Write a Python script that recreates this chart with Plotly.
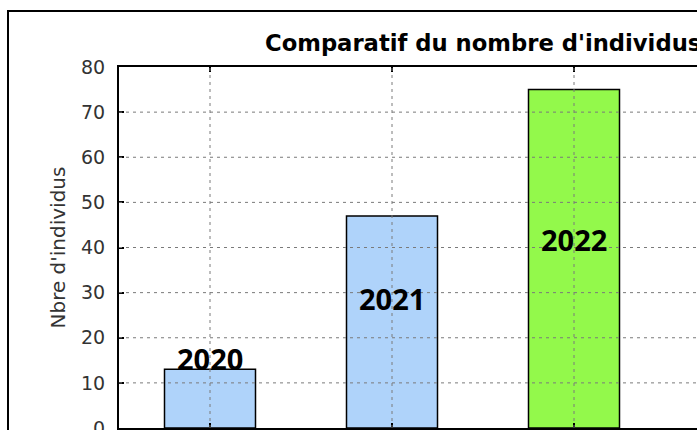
import plotly.graph_objects as go

# ---- data ----
years = ["2020", "2021", "2022"]
counts = [13, 47, 75]
bar_colors = ["#afd3fa", "#afd3fa", "#93f94b"]
label_y = [15.5, 28.8, 41.7]          # heights where year labels sit
y_ticks = [0, 10, 20, 30, 40, 50, 60, 70, 80]

title_text = "Comparatif du nombre d'individus"
y_title = "Nbre d'individus"

W, H = 697, 430
ML, MT, MB = 119, 67, 2
plot_w = W - ML
plot_h = H - MT - MB
cat_px = 182.0

fig = go.Figure()
fig.add_trace(go.Bar(
    x=years, y=counts, width=0.5,
    marker=dict(color=bar_colors, line=dict(color="black", width=1.5)),
    hoverinfo="x+y",
))

# grid drawn above bars (dotted)
grid_style = dict(color="#7a7a7a", width=1, dash="3px,4px")
for t in y_ticks[1:-1]:
    fig.add_shape(type="line", xref="paper", yref="y", x0=0, x1=1, y0=t, y1=t,
                  line=grid_style, layer="above")
for i, yr in enumerate(years):
    fig.add_shape(type="line", xref="x", yref="paper", x0=i, x1=i, y0=0, y1=1,
                  line=grid_style, layer="above")

# year labels on bars
for i, (yr, ly) in enumerate(zip(years, label_y)):
    fig.add_annotation(x=i, y=ly, xref="x", yref="y", text=f"<b>{yr}</b>",
                       showarrow=False, xanchor="center", yanchor="middle",
                       font=dict(family="Noto Sans", size=29, color="black"))

# title
fig.add_annotation(x=0, y=1, xref="paper", yref="paper", text=f"<b>{title_text}</b>",
                   showarrow=False, xanchor="left", yanchor="bottom",
                   xshift=263 - ML, yshift=9,
                   font=dict(family="DejaVu Sans", size=22.7, color="black"))

# y axis title
fig.add_annotation(x=0, y=0.5, xref="paper", yref="paper", text=y_title,
                   showarrow=False, textangle=-90, xanchor="center", yanchor="middle",
                   xshift=57 - ML,
                   font=dict(family="DejaVu Sans", size=20, color="#333333"))

# outer frame
fig.add_shape(type="rect", xref="paper", yref="paper",
              x0=(8 - ML) / plot_w, x1=2.0,
              y0=-1.0, y1=(H - MB - 11) / plot_h,
              line=dict(color="black", width=2), fillcolor="rgba(0,0,0,0)", layer="above")

x_max = -0.5 + plot_w / cat_px

fig.update_layout(
    width=W, height=H,
    margin=dict(l=ML, r=0, t=MT, b=MB, pad=0),
    paper_bgcolor="white", plot_bgcolor="white",
    showlegend=False,
    font=dict(family="DejaVu Sans", color="#333333"),
)
fig.update_xaxes(
    type="category", range=[-0.5, x_max], showgrid=False, zeroline=False,
    showline=True, linecolor="black", linewidth=2, mirror="allticks",
    ticks="inside", ticklen=5, tickwidth=1.5, tickcolor="black",
    showticklabels=False, automargin=False,
)
fig.update_yaxes(
    range=[0, 80], tickvals=y_ticks, showgrid=False, zeroline=False,
    showline=True, linecolor="black", linewidth=2, mirror=False,
    ticks="inside", ticklen=5, tickwidth=1.5, tickcolor="black",
    tickfont=dict(family="DejaVu Sans", size=19, color="#333333"),
    ticklabelstandoff=8, ticklabeloverflow="allow", automargin=False,
)

fig.write_html("out.html", config={"displayModeBar": False},
               post_script="document.body.style.margin='0';document.body.style.overflow='hidden';")
